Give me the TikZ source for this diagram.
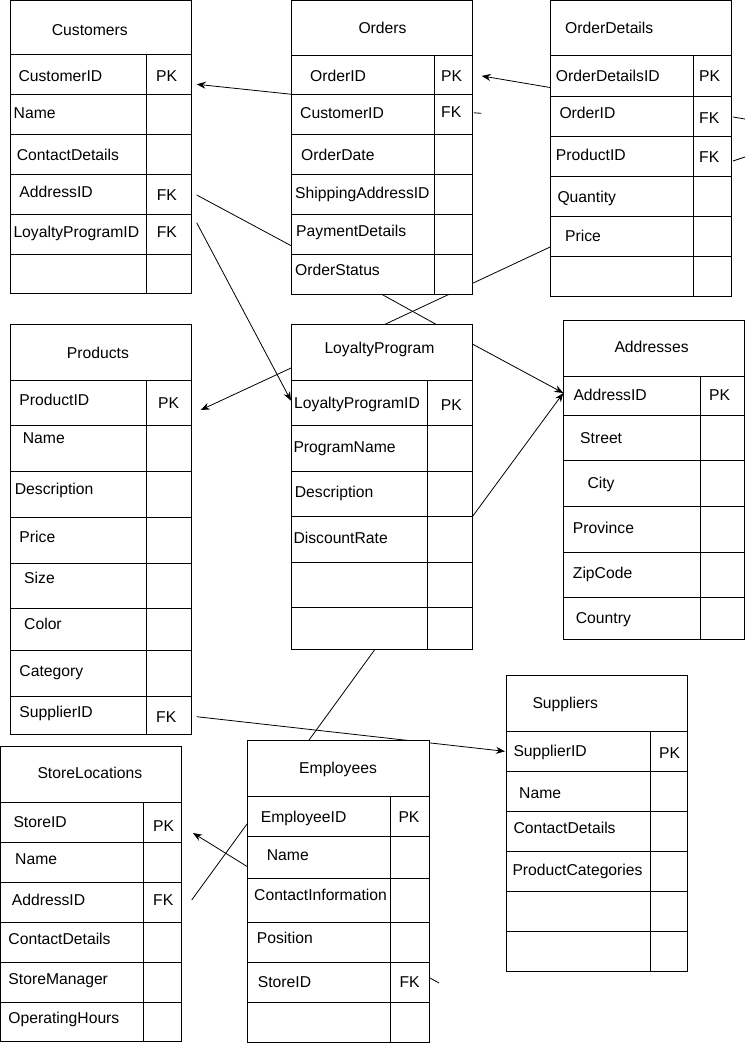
\documentclass[tikz,border=0pt]{standalone}
\usepackage{fontspec}
\setmainfont{Liberation Sans}
\usetikzlibrary{arrows.meta}
\pgfdeclarelayer{bg}
\pgfsetlayers{bg,main}

\begin{document}
\begin{tikzpicture}[x=1pt,y=-1pt,
  cell/.style={draw,fill=white,line width=1pt,rectangle,inner sep=0pt,outer sep=0pt,anchor=north west},
  txt/.style={inner sep=0pt,anchor=west,text height=11.2pt,text depth=0pt,font=\fontsize{15.7}{18}\selectfont},
  rel/.style={line width=0.8pt},
  ref/.style={rel,-{Stealth[length=9pt,width=7pt]}}]

\useasboundingbox (0,0) rectangle (751,1043);

% Customers
\node[cell,minimum width=181pt,minimum height=53.8pt] (cust) at (10.7,0.5) {};
\foreach \a/\b [count=\i] in {54.3/94.3,94.3/134.3,134.3/174.3,174.3/214.3,214.3/254.3,254.3/293.3}{
  \pgfmathsetmacro\h{\b-\a}
  \node[cell,minimum width=136pt,minimum height=\h pt] (cust-\i) at (10.7,\a) {};
  \node[cell,minimum width=45pt,minimum height=\h pt] (custk-\i) at (146.7,\a) {};
}
\foreach \t/\x/\y [count=\j] in {Customers/51.7/30,CustomerID/18.3/76,Name/13.5/113.3,ContactDetails/16.7/155,
  AddressID/19.3/192.3,LoyaltyProgramID/13.3/231.7,PK/156/76,FK/156.7/195,FK/156.7/231.7}
  \node[txt] (custt-\j) at (\x,\y) {\t};

% Orders
\node[cell,minimum width=180.6pt,minimum height=55.5pt] (ord) at (291.7,0.5) {};
\foreach \a/\b [count=\i] in {56/94.3,94.3/134.3,134.3/174.3,174.3/214.3,214.3/254.3,254.3/294.3}{
  \pgfmathsetmacro\h{\b-\a}
  \node[cell,minimum width=142.6pt,minimum height=\h pt] (ord-\i) at (291.7,\a) {};
  \node[cell,minimum width=38pt,minimum height=\h pt] (ordk-\i) at (434.3,\a) {};
}
\foreach \t/\x/\y [count=\j] in {Orders/358.3/28,OrderID/310/76,CustomerID/300/113,OrderDate/301/155,
  ShippingAddressID/295/192.5,PaymentDetails/296/230.5,OrderStatus/295/270,PK/441/76,FK/441/112}
  \node[txt] (ordt-\j) at (\x,\y) {\t};

% OrderDetails
\node[cell,minimum width=181pt,minimum height=55.5pt] (od) at (550,0.5) {};
\foreach \a/\b [count=\i] in {56/97,97/137,137/177,177/216,216/256.7,256.7/296}{
  \pgfmathsetmacro\h{\b-\a}
  \node[cell,minimum width=143.3pt,minimum height=\h pt] (od-\i) at (550,\a) {};
  \node[cell,minimum width=37.7pt,minimum height=\h pt] (odk-\i) at (693.3,\a) {};
}
\foreach \t/\x/\y [count=\j] in {OrderDetails/565/28.3,OrderDetailsID/555.7/76,OrderID/559.3/113.3,ProductID/555.7/155,
  Quantity/557.3/196.7,Price/565/236,PK/699/76,FK/699/117.7,FK/699/156.7}
  \node[txt] (odt-\j) at (\x,\y) {\t};

% Products
\node[cell,minimum width=181pt,minimum height=56.4pt] (prod) at (10.7,324.3) {};
\foreach \a/\b [count=\i] in {380.7/425.3,425.3/471.7,471.7/517.3,517.3/563.3,563.3/608.3,608.3/650.7,650.7/696,696/734}{
  \pgfmathsetmacro\h{\b-\a}
  \node[cell,minimum width=136pt,minimum height=\h pt] (prod-\i) at (10.7,\a) {};
  \node[cell,minimum width=45pt,minimum height=\h pt] (prodk-\i) at (146.7,\a) {};
}
\foreach \t/\x/\y [count=\j] in {Products/66.7/353,ProductID/19.3/400,Name/22.7/438,Description/14.7/489,Price/19.3/537,
  Size/24/578,Color/24/624,Category/19.3/670.7,SupplierID/19.3/711.7,PK/158/403,FK/156/716.7}
  \node[txt] (prodt-\j) at (\x,\y) {\t};

% LoyaltyProgram
\node[cell,minimum width=180.6pt,minimum height=56.4pt] (lp) at (291.7,324.3) {};
\foreach \a/\b [count=\i] in {380.7/425.3,425.3/471,471/516.7,516.7/562.3,562.3/607.3,607.3/649.3}{
  \pgfmathsetmacro\h{\b-\a}
  \node[cell,minimum width=135.6pt,minimum height=\h pt] (lp-\i) at (291.7,\a) {};
  \node[cell,minimum width=45pt,minimum height=\h pt] (lpk-\i) at (427.3,\a) {};
}
\foreach \t/\x/\y [count=\j] in {LoyaltyProgram/324.3/348.3,LoyaltyProgramID/294/402.7,ProgramName/293.3/446.7,
  Description/294.7/491.7,DiscountRate/293.3/537.7,PK/440.7/405}
  \node[txt] (lpt-\j) at (\x,\y) {\t};

% Addresses
\node[cell,minimum width=181pt,minimum height=56pt] (addr) at (563.3,320) {};
\foreach \a/\b [count=\i] in {376/415,415/460.7,460.7/506.7,506.7/552.3,552.3/597.3,597.3/639}{
  \pgfmathsetmacro\h{\b-\a}
  \node[cell,minimum width=136.7pt,minimum height=\h pt] (addr-\i) at (563.3,\a) {};
  \node[cell,minimum width=44.3pt,minimum height=\h pt] (addrk-\i) at (700,\a) {};
}
\foreach \t/\x/\y [count=\j] in {Addresses/614.3/346.7,AddressID/573.3/395,Street/580/437.7,City/587.3/483.3,
  Province/572.7/528.3,ZipCode/572.7/573.3,Country/575.7/618.3,PK/709/395}
  \node[txt] (addrt-\j) at (\x,\y) {\t};

% Suppliers
\node[cell,minimum width=180.6pt,minimum height=56.7pt] (sup) at (506.7,675) {};
\foreach \a/\b [count=\i] in {731.7/771,771/811.7,811.7/851.7,851.7/891.7,891.7/931.7,931.7/971}{
  \pgfmathsetmacro\h{\b-\a}
  \node[cell,minimum width=143.3pt,minimum height=\h pt] (sup-\i) at (506.7,\a) {};
  \node[cell,minimum width=37.3pt,minimum height=\h pt] (supk-\i) at (650,\a) {};
}
\foreach \t/\x/\y [count=\j] in {Suppliers/532.3/702.7,SupplierID/513.3/751,Name/519/793.3,ContactDetails/513.3/828.3,
  ProductCategories/512.3/870,PK/659/753}
  \node[txt] (supt-\j) at (\x,\y) {\t};

% StoreLocations
\node[cell,minimum width=181.2pt,minimum height=56pt] (store) at (0.5,746.7) {};
\foreach \a/\b [count=\i] in {802.7/842.7,842.7/882.7,882.7/922.7,922.7/962.7,962.7/1002.7,1002.7/1041.7}{
  \pgfmathsetmacro\h{\b-\a}
  \node[cell,minimum width=142.8pt,minimum height=\h pt] (store-\i) at (0.5,\a) {};
  \node[cell,minimum width=38.4pt,minimum height=\h pt] (storek-\i) at (143.3,\a) {};
}
\foreach \t/\x/\y [count=\j] in {StoreLocations/37.3/773.3,StoreID/13.3/821.7,Name/15/859.3,AddressID/11.7/900,
  ContactDetails/8.3/939.3,StoreManager/8.3/979.3,OperatingHours/8.3/1018.3,PK/153/826,FK/153/900}
  \node[txt] (storet-\j) at (\x,\y) {\t};

% Employees
\node[cell,minimum width=181.3pt,minimum height=56pt] (emp) at (247.7,740) {};
\foreach \a/\b [count=\i] in {796/836.7,836.7/878,878/922,922/962,962/1002,1002/1042}{
  \pgfmathsetmacro\h{\b-\a}
  \node[cell,minimum width=143pt,minimum height=\h pt] (emp-\i) at (247.7,\a) {};
  \node[cell,minimum width=38.3pt,minimum height=\h pt] (empk-\i) at (390.7,\a) {};
}
\foreach \t/\x/\y [count=\j] in {Employees/299/767.7,EmployeeID/260.7/816.7,Name/266.7/855,ContactInformation/254/895,
  Position/256.7/938.3,StoreID/257.7/981.7,PK/398.3/816.7,FK/399.3/981.7}
  \node[txt] (empt-\j) at (\x,\y) {\t};

% relations
\begin{pgfonlayer}{bg}
\draw[ref] (ord-1.south west) -- ([shift={(5,10)}]custk-1.east);
\draw[ref] ([shift={(0,11)}]od-1.west) -- ([shift={(9.4,0.8)}]ordk-1.east);
\draw[rel] ([shift={(1.5,-1.5)}]ordk-2.east) -- ([shift={(9,-1)}]ordk-2.east);
\draw[rel] ([shift={(2,0)}]odk-2.east) -- ([shift={(14,2)}]odk-2.east);
\draw[rel] ([shift={(2,4)}]odk-3.east) -- ([shift={(14,0)}]odk-3.east);
\draw[rel] ([shift={(5,0.7)}]custk-4.east) -- ([shift={(0,11.7)}]ord-5.west);
\draw[ref] ([shift={(5,-11.6)}]custk-5.east) -- ([shift={(-0.7,-2.3)}]lp-1.west);
\draw[rel] ([shift={(18.7,0)}]ord-6.south) -- ([shift={(54,0)}]lp.north);
\draw[rel] ([shift={(0,10.7)}]od-5.west) -- ([shift={(3,0)}]lp.north);
\draw[ref] ([shift={(0,15.2)}]lp.west) -- ([shift={(9,7)}]prodk-1.east);
\draw[ref] ([shift={(0,-8.5)}]lp.east) -- ([shift={(0,-2.5)}]addr-1.west);
\draw[ref] (lpk-3.south east) -- ([shift={(0,-2.5)}]addr-1.west);
\draw[rel] ([shift={(15.5,0)}]lp-6.south) -- ([shift={(-29.3,0)}]emp.north);
\draw[ref] ([shift={(5,1.7)}]prodk-8.east) -- ([shift={(-1.7,0)}]sup-1.west);
\draw[ref] ([shift={(0,9.5)}]emp-2.west) -- ([shift={(11.3,10.3)}]storek-1.east);
\draw[rel] ([shift={(10,-2.7)}]storek-3.east) -- ([shift={(0,6.7)}]emp-1.west);
\draw[rel] ([shift={(1,-4)}]empk-5.east) -- ([shift={(10,1)}]empk-5.east);
\end{pgfonlayer}
\end{tikzpicture}
\end{document}
